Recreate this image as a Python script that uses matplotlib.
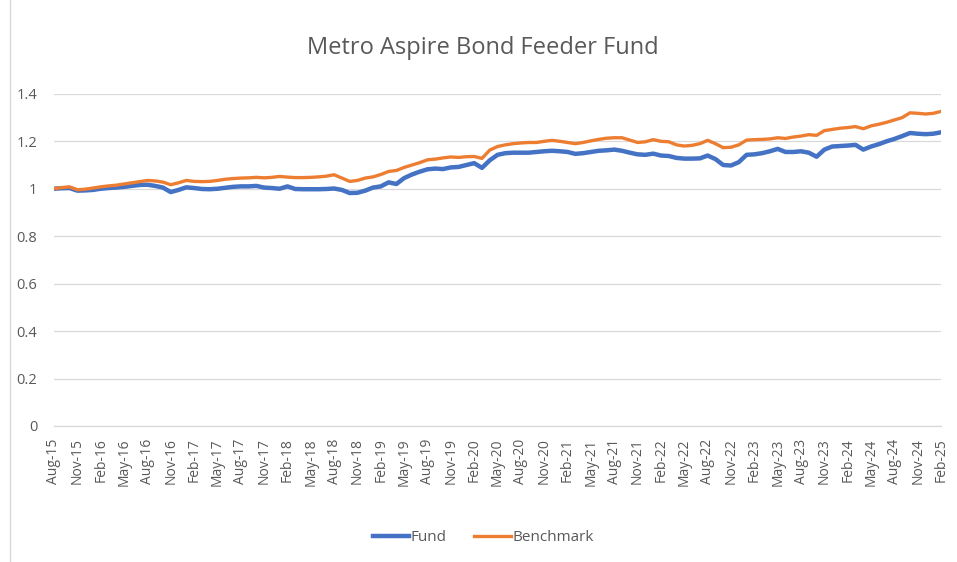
"""Metro Aspire Bond Feeder Fund vs benchmark, monthly growth of 1."""

import matplotlib

matplotlib.use("Agg")
import matplotlib.pyplot as plt
import numpy as np
import pandas as pd
from matplotlib.lines import Line2D

# monthly values, Aug-15 .. Feb-25
fund = [
    1.000, 1.002, 1.003, 0.992, 0.993,
    0.995, 1.000, 1.003, 1.005, 1.008, 1.012, 1.016, 1.017, 1.012, 1.005, 0.986, 0.995,
    1.006, 1.003, 0.999, 0.998, 1.000, 1.004, 1.008, 1.010, 1.010, 1.012, 1.005, 1.003,
    1.000, 1.010, 0.999, 0.998, 0.998, 0.998, 0.999, 1.001, 0.995, 0.982, 0.983, 0.992,
    1.005, 1.010, 1.027, 1.020, 1.045, 1.060, 1.072, 1.082, 1.085, 1.083, 1.090, 1.092,
    1.100, 1.108, 1.088, 1.120, 1.143, 1.150, 1.152, 1.152, 1.152, 1.155, 1.158, 1.160,
    1.158, 1.155, 1.147, 1.150, 1.155, 1.160, 1.162, 1.165, 1.160, 1.152, 1.145, 1.143,
    1.148, 1.140, 1.138, 1.130, 1.127, 1.127, 1.128, 1.140, 1.125, 1.100, 1.098, 1.112,
    1.143, 1.145, 1.150, 1.158, 1.168, 1.155, 1.155, 1.158, 1.152, 1.135, 1.165, 1.178,
    1.180, 1.182, 1.185, 1.165, 1.178, 1.188, 1.200, 1.210, 1.222, 1.235, 1.232, 1.230,
    1.232, 1.238,
]
benchmark = [
    1.000, 1.005, 1.008, 0.996, 0.998,
    1.003, 1.008, 1.012, 1.015, 1.020, 1.025, 1.030, 1.035, 1.033, 1.028, 1.017, 1.025,
    1.035, 1.031, 1.030, 1.031, 1.035, 1.040, 1.043, 1.045, 1.046, 1.048, 1.046, 1.048,
    1.052, 1.049, 1.047, 1.047, 1.048, 1.050, 1.053, 1.059, 1.045, 1.031, 1.035, 1.045,
    1.050, 1.060, 1.073, 1.077, 1.090, 1.100, 1.110, 1.122, 1.125, 1.130, 1.134, 1.132,
    1.135, 1.136, 1.128, 1.163, 1.178, 1.185, 1.190, 1.193, 1.195, 1.195, 1.200, 1.204,
    1.200, 1.195, 1.190, 1.195, 1.202, 1.208, 1.213, 1.215, 1.215, 1.205, 1.195, 1.198,
    1.207, 1.200, 1.198, 1.185, 1.180, 1.183, 1.190, 1.204, 1.190, 1.173, 1.175, 1.185,
    1.205, 1.207, 1.208, 1.210, 1.215, 1.212, 1.218, 1.222, 1.228, 1.225, 1.245, 1.250,
    1.255, 1.258, 1.262, 1.253, 1.265, 1.272, 1.280, 1.290, 1.300, 1.320, 1.318, 1.315,
    1.318, 1.326,
]
months = pd.date_range("2015-08-01", periods=len(fund), freq="MS")
tick_labels = [m.strftime("%b-%y") for m in months[::3]]
y_ticks = [0, 0.2, 0.4, 0.6, 0.8, 1.0, 1.2, 1.4]
y_tick_labels = ["0", "0.2", "0.4", "0.6", "0.8", "1", "1.2", "1.4"]

FONT = ["Open Sans", "DejaVu Sans"]
TXT = "#595959"
GRID = "#D9D9D9"
BLUE = "#4472C4"
ORANGE = "#ED7D31"


def main() -> None:
    fig = plt.figure(figsize=(9.57, 5.62), dpi=100)
    ax = fig.add_axes([0.0564, 0.242, 0.927, 0.591])
    x = np.arange(len(fund))

    ax.plot(x, fund, color=BLUE, lw=3.2, solid_capstyle="round", zorder=3)
    ax.plot(x, benchmark, color=ORANGE, lw=2.4, solid_capstyle="round", zorder=3)

    ax.set_xlim(0, len(fund) - 1)
    ax.set_ylim(0, 1.4)
    ax.set_yticks(y_ticks)
    ax.set_yticklabels(y_tick_labels, family=FONT, fontsize=10.5, color=TXT)
    ax.set_xticks(x[::3])
    ax.set_xticklabels(tick_labels, rotation=90, family=FONT, fontsize=10, color=TXT)
    ax.tick_params(axis="both", length=0)
    ax.tick_params(axis="y", pad=12)
    ax.tick_params(axis="x", pad=9)
    ax.grid(axis="y", color=GRID, lw=0.9)
    ax.set_axisbelow(True)
    for side in ("top", "right", "left"):
        ax.spines[side].set_visible(False)
    ax.spines["bottom"].set_color(GRID)
    ax.spines["bottom"].set_linewidth(0.9)

    fig.text(0.505, 0.915, "Metro Aspire Bond Feeder Fund", ha="center", va="center",
             family=FONT, fontsize=17, color=TXT)

    handles = [Line2D([], [], color=BLUE, lw=3.2), Line2D([], [], color=ORANGE, lw=2.4)]
    fig.legend(handles, ["Fund", "Benchmark"], loc="center", bbox_to_anchor=(0.505, 0.043),
               ncol=2, frameon=False, prop={"family": FONT, "size": 11},
               labelcolor=TXT, handlelength=2.4, handletextpad=0.1, columnspacing=1.8)

    # chart area border on the left edge
    fig.add_artist(Line2D([0.0105, 0.0105], [0.0, 1.0], transform=fig.transFigure,
                          color=GRID, lw=1.0))

    fig.savefig("out.png", dpi=100)
    plt.close(fig)


if __name__ == "__main__":
    main()
